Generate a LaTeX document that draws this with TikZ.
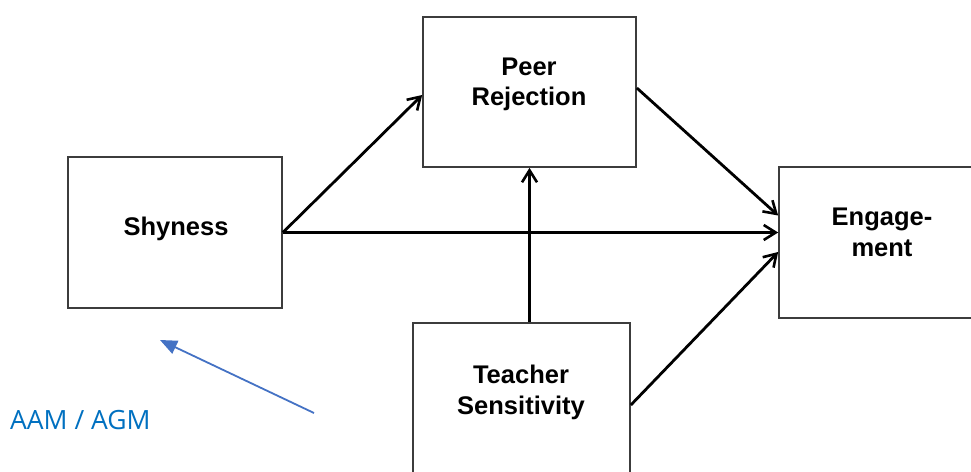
\documentclass[tikz,border=0pt]{standalone}
\usepackage{fontspec}
\setmainfont{Liberation Sans}
\newfontfamily\notefont{Open Sans}
\usetikzlibrary{arrows.meta}
\definecolor{c1}{RGB}{68,114,196}
\definecolor{c2}{RGB}{0,112,192}
\definecolor{c3}{RGB}{60,60,60}

\begin{document}
\begin{tikzpicture}[x=1pt,y=-1pt,
    box/.style={draw=c3,line width=1.7pt,fill=white,rectangle,inner sep=0pt},
    lbl/.style={align=center,inner sep=0pt,anchor=north,font=\bfseries\fontsize{25.5}{30.5}\selectfont},
    path/.style={line width=2.8pt,arrows={-Straight Barb[length=12pt,width=15pt,line width=2.6pt]}}]
      \useasboundingbox (0,0) rectangle (971,471);

      \node[box,minimum width=214pt,minimum height=151pt] (shy) at (175,232.5) {};
      \node[box,minimum width=213pt,minimum height=150pt] (peer) at (529.5,92) {};
      \node[box,minimum width=214pt,minimum height=151pt] (eng) at (886,242.5) {};
      \node[box,minimum width=217pt,minimum height=152pt] (teach) at (521.5,399) {};

      \node[lbl] (shy-t) at (176,216.5) {Shyness};
      \node[lbl] (peer-t) at (529,57.5) {Peer\\Rejection};
      \node[lbl] (eng-t) at (882,208) {Engage-\\ment};
      \node[lbl] (teach-t) at (521,365) {Teacher\\Sensitivity};

      \draw[path] (shy.east) -- ([yshift=-3pt]peer.west);%shy-peer
      \draw[path] (shy.east) -- (shy.east -| eng.west);%shy-eng
      \draw[path] ([yshift=4pt]peer.east) -- ([yshift=27pt]eng.west);%peer-eng
      \draw[path] (peer.south |- teach.north) -- (peer.south);%teach-peer
      \draw[path] ([yshift=-6pt]teach.east) -- ([yshift=-9.5pt]eng.west);%teach-eng

      \coordinate (n1) at (314,413);
      \coordinate (n2) at (160,340);
      \draw[c1,line width=1.8pt,arrows={-Triangle[length=17pt,width=14pt]}] (n1) -- (n2);
      \node[c2,anchor=base west,inner sep=0pt,font=\notefont\fontsize{26.5}{30}\selectfont] (note) at (10,429) {AAM / AGM};
    \end{tikzpicture}
\end{document}
